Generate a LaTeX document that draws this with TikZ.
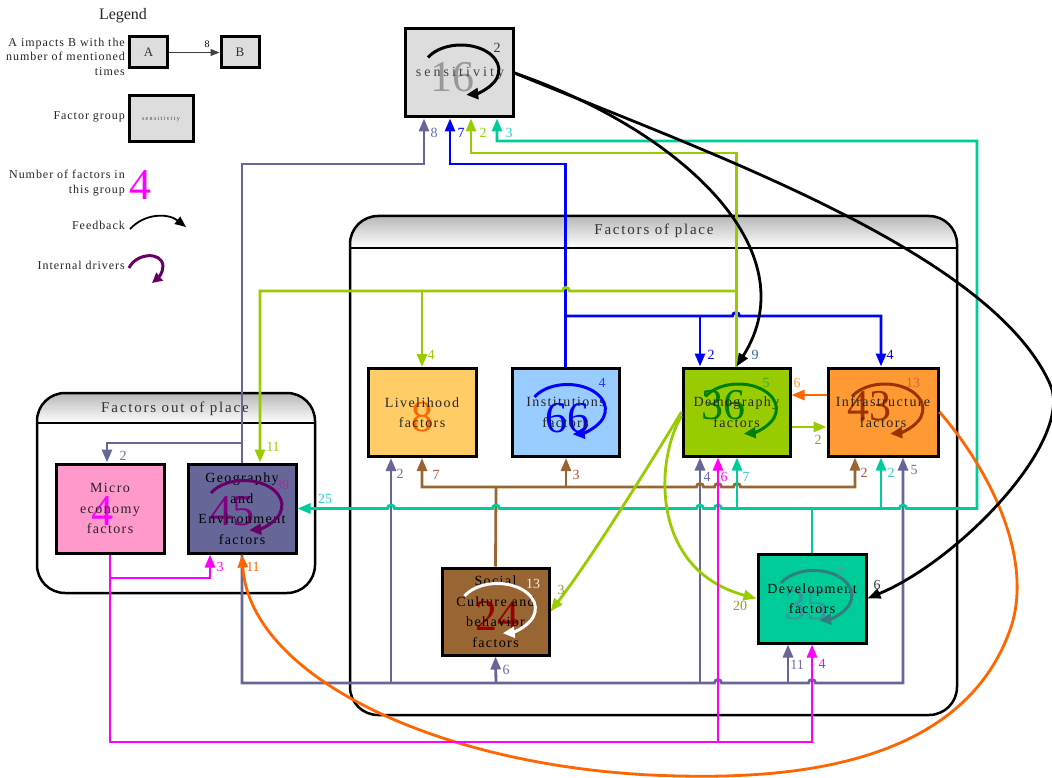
\documentclass[tikz,border=0pt]{standalone}
\usepackage{fontspec}
\setmainfont{Liberation Serif}
\newfontfamily\nodeff[LetterSpace=10]{Liberation Serif}
\newfontfamily\wideff[LetterSpace=22]{Liberation Serif}
\newfontfamily\titleff[LetterSpace=12]{Liberation Serif}
\newfontfamily\legff[LetterSpace=8]{Liberation Serif}
\usetikzlibrary{arrows.meta,calc}

% edge colours
\definecolor{cPG}{HTML}{666699}
\definecolor{cBL}{HTML}{0000FF}
\definecolor{cYG}{HTML}{99CC00}
\definecolor{cTL}{HTML}{00CC99}
\definecolor{cBR}{HTML}{996633}
\definecolor{cMG}{HTML}{FF00FF}
\definecolor{cOR}{HTML}{FF6600}
% label colours
\definecolor{lPG}{HTML}{6E6EAE}
\definecolor{lTL}{HTML}{33CCCC}
\definecolor{lBR}{HTML}{AA5533}
\definecolor{lOL}{HTML}{999933}
\definecolor{lYG}{HTML}{99CC11}
% box fills
\definecolor{fSens}{HTML}{DDDDDD}
\definecolor{fLive}{HTML}{FFCC66}
\definecolor{fInst}{HTML}{99CCFF}
\definecolor{fDemo}{HTML}{99CC00}
\definecolor{fInfra}{HTML}{FF9933}
\definecolor{fMicro}{HTML}{FF99CC}
\definecolor{fGeo}{HTML}{666699}
\definecolor{fSoc}{HTML}{996633}
\definecolor{fDev}{HTML}{00CC99}
% numbers and inner loops
\definecolor{nDemo}{HTML}{008000}
\definecolor{nInfra}{HTML}{993300}
\definecolor{nGeo}{HTML}{800080}
\definecolor{nSoc}{HTML}{990000}
\definecolor{nDev}{HTML}{33999A}
\definecolor{kGeo}{HTML}{660066}
\definecolor{kDev}{HTML}{2F7F7F}

% small bumps where a horizontal line passes over a vertical one
\newcommand\hopr{arc[start angle=180,end angle=360,radius=3.5]}
\newcommand\hopl{arc[start angle=0,end angle=-180,radius=3.5]}
% internal-driver loop inside a factor box
\newcommand\innerloop[2]{\draw[loopline,draw=#2] ($(#1.center)+(-31,-15.5)$) arc[start angle=-150,end angle=82,x radius=38,y radius=25];}

\begin{document}
\begin{tikzpicture}[x=1pt,y=-1pt,
  lnk/.style={line width=2.8pt},
  arr/.style={-{Triangle[length=13pt,width=10pt]}},
  arrboth/.style={{Triangle[length=13pt,width=10pt]}-{Triangle[length=13pt,width=10pt]}},
  fbox/.style={draw=black, line width=3pt, minimum width=108pt, minimum height=88pt, inner sep=0pt},
  ntext/.style={align=center, inner sep=0pt, text=black!85, font={\nodeff\fontsize{14pt}{20.5pt}\selectfont}},
  bignum/.style={inner sep=0pt, font={\fontsize{44pt}{44pt}\selectfont}},
  elab/.style={inner sep=0pt, font={\fontsize{14pt}{14pt}\selectfont}},
  loopline/.style={line width=3pt, -{Triangle[length=12pt,width=11pt]}},
  gtitle/.style={inner sep=0pt, text=black!80, font={\titleff\fontsize{15pt}{18pt}\selectfont}},
  legtext/.style={inner sep=0pt, anchor=east, align=right, text=black!85, font={\legff\fontsize{12pt}{14.5pt}\selectfont}},
]
\useasboundingbox (0,0) rectangle (1052,778);
\fill[white] (0,0) rectangle (1052,778);

% ---------------- legend ----------------
\node[inner sep=0pt, text=black!85, font={\fontsize{16pt}{18pt}\selectfont}] (legtitle) at (123,16) {Legend};
\node[legtext] (legimp) at (125,56.5) {A impacts B with the\\number of mentioned\\times};
\node[fbox, fill=fSens, minimum width=38pt, minimum height=31pt, font={\fontsize{13pt}{14pt}\selectfont}, text=black!80] (legA) at (148.5,52.5) {A};
\node[fbox, fill=fSens, minimum width=38pt, minimum height=31pt, font={\fontsize{13pt}{14pt}\selectfont}, text=black!80] (legB) at (240,52.5) {B};
\draw[line width=1pt, black!75, -{Triangle[length=9pt,width=7pt]}] (legA) -- (legB);
\node[elab, font={\fontsize{10pt}{12pt}\selectfont}] (leg8) at (207,44) {8};
\node[legtext] (leggrp) at (125,117) {Factor group};
\node[fbox, fill=fSens, minimum width=64pt, minimum height=46pt, text=black!75, font={\wideff\fontsize{6pt}{7pt}\selectfont}] (legbox) at (161,119) {sensitivity};
\node[legtext] (legnum) at (125,183) {Number of factors in\\this group};
\node[bignum, text=cMG] (legfour) at (140,185) {4};
\node[legtext] (legfb) at (125,225) {Feedback};
\coordinate (fbs) at (130,229);
\coordinate (fbe) at (186,227);
\draw[line width=1.8pt, -{Triangle[length=11pt,width=9pt]}] (fbs) .. controls (145,213) and (168,213) .. (fbe);
\node[legtext] (legint) at (125,265) {Internal drivers};
\coordinate (ids) at (129,268);
\coordinate (ide) at (152,283);
\draw[line width=3pt, kGeo, -{Triangle[length=10pt,width=10pt]}] (ids) .. controls (136,253) and (162,251) .. (163,266) .. controls (163,273) and (158,278) .. (ide);

% ---------------- factor groups ----------------
\begin{scope}
  \clip[rounded corners=28pt] (350,216) rectangle (957,715);
  \fill[white] (350,216) rectangle (957,715);
  \shade[top color=black!28, bottom color=white] (350,216) rectangle (957,248);
\end{scope}
\draw[line width=2.5pt, rounded corners=28pt] (350,216) rectangle (957,715);
\draw[line width=2.5pt] (350,248) -- (957,248);
\node[gtitle] (tplace) at (654,231) {Factors of place};

\begin{scope}
  \clip[rounded corners=28pt] (37,393) rectangle (315,593);
  \fill[white] (37,393) rectangle (315,593);
  \shade[top color=black!28, bottom color=white] (37,393) rectangle (315,423);
\end{scope}
\draw[line width=2.5pt, rounded corners=28pt] (37,393) rectangle (315,593);
\draw[line width=2.5pt] (37,423) -- (315,423);
\node[gtitle] (toutplace) at (175,409) {Factors out of place};

% ---------------- factor boxes ----------------
\node[fbox, fill=fSens] (sens) at (459,73) {};
\node[bignum, text=black!40] (nsens) at (452,77) {16};
\node[ntext, text=black!75, font={\wideff\fontsize{14pt}{20.5pt}\selectfont}] (tsens) at (460,73) {sensitivity};
\innerloop{sens}{black}

\node[fbox, fill=fLive] (live) at (422,412.5) {};
\node[bignum, text=cOR] (nlive) at (422,417) {8};
\node[ntext] (tlive) at (422,412.5) {Livelihood\\factors};

\node[fbox, fill=fInst, minimum width=107pt] (inst) at (565.5,412.5) {};
\node[bignum, text=cBL] (ninst) at (567,418) {66};
\node[ntext] (tinst) at (565.5,412.5) {Institutions\\factors};
\innerloop{inst}{cBL}

\node[fbox, fill=fDemo, minimum width=107pt] (demo) at (736.5,412) {};
\node[bignum, text=nDemo] (ndemo) at (723,405) {36};
\node[ntext] (tdemo) at (736.5,412) {Demography\\factors};
\innerloop{demo}{nDemo}

\node[fbox, fill=fInfra, minimum width=110pt] (infra) at (883,412) {};
\node[bignum, text=nInfra] (ninfra) at (869,406) {43};
\node[ntext] (tinfra) at (883,412) {Infrastructure\\factors};
\innerloop{infra}{nInfra}

\node[fbox, fill=fMicro, minimum height=89pt] (micro) at (110,508.5) {};
\node[bignum, text=cMG] (nmicro) at (102,511) {4};
\node[ntext] (tmicro) at (110,508.5) {Micro\\economy\\factors};

\node[fbox, fill=fGeo, minimum height=89pt] (geo) at (242,508.5) {};
\node[bignum, text=nGeo] (ngeo) at (232,511) {45};
\node[ntext, text=black] (tgeo) at (242,508.5) {Geography\\and\\Environment\\factors};
\innerloop{geo}{kGeo}

\node[fbox, fill=fSoc, minimum width=107pt, minimum height=87pt] (social) at (495.5,611.5) {};
\node[bignum, text=nSoc] (nsocial) at (497,616) {24};
\node[ntext, text=black] (tsocial) at (495.5,611.5) {Social\\Culture and\\behavior\\factors};
\innerloop{social}{white}

\node[fbox, fill=fDev, minimum height=89pt] (dev) at (812,598.5) {};
\node[bignum, text=nDev] (ndev) at (806,605) {35};
\node[ntext, text=black] (tdev) at (812,598.5) {Development\\factors};
\innerloop{dev}{kDev}

% ---------------- junction points ----------------
\coordinate (pgTop) at (242,443);
\coordinate (pgB1) at (391,683);
\coordinate (pgB2) at (496,683);
\coordinate (pgB3) at (700,683);
\coordinate (pgB4) at (788,683);
\coordinate (brJ) at (496,487);
\coordinate (brI) at (566,487);
\coordinate (tlJ) at (812,508.5);
\coordinate (tlD) at (737,508.5);
\coordinate (tlI) at (881,508.5);
\coordinate (blJ) at (566,316);
\coordinate (blD) at (700,316);
\coordinate (ygJ) at (736.5,291);
\coordinate (ygL) at (422,291);
\coordinate (mgJ) at (718,742);
\coordinate (mgG) at (110,578);

% ---------------- connectors ----------------
% geography and environment
\draw[lnk, cPG, arr] (geo.north) |- (424,164) -- (424,0 |- sens.south);
\draw[lnk, cPG, arr] (pgTop) -| ([shift={(-3,0)}]micro.north);
\draw[lnk, cPG, arr] (geo.south) -- (242,683) -- (714.5,683) \hopr -- (808.5,683) \hopr -- (903,683) -- (903,0 |- infra.south);
\draw[lnk, cPG, arr] (pgB1) -- (391,0 |- live.south);
\draw[lnk, cPG, arr] (pgB2) -- (social.south);
\draw[lnk, cPG, arr] (pgB3) -- (700,0 |- demo.south);
\draw[lnk, cPG, arr] (pgB4) -- (788,0 |- dev.south);

% social culture and behavior
\draw[lnk, cBR] (social.north) -- (brJ);
\draw[lnk, cBR, arrboth] (422,0 |- live.south) -- (422,487) -- (696.5,487) \hopr -- (714.5,487) \hopr -- (733.5,487) \hopr -- (855,487) -- (855,0 |- infra.south);
\draw[lnk, cBR, arr] (brI) -- (566,0 |- inst.south);

% development
\draw[lnk, cTL] (dev.north) -- (tlJ);
\draw[lnk, cTL, arrboth] (geo.east) -- (387.5,508.5) \hopr -- (492.5,508.5) \hopr -- (696.5,508.5) \hopr -- (714.5,508.5) \hopr -- (899.5,508.5) \hopr -- (977,508.5) -- (977,141) -- (497,141) -- (497,0 |- sens.south);
\draw[lnk, cTL, arr] (tlD) -- (737,0 |- demo.south);
\draw[lnk, cTL, arr] (tlI) -- (881,0 |- infra.south);

% institutions
\draw[lnk, cBL, arr] (inst.north) |- (450,164) -- (450,0 |- sens.south);
\draw[lnk, cBL, arr] (blJ) -- (732.5,316) \hopr -- (881,316) -- (881,0 |- infra.north);
\draw[lnk, cBL, arr] (blD) -- (700,0 |- demo.north);

% demography
\draw[lnk, cYG, arr] (demo.north) |- (471,153) -- (471,0 |- sens.south);
\draw[lnk, cYG, arr] (ygJ) -- (569.5,291) \hopl -- (260,291) -- (260,0 |- geo.north);
\draw[lnk, cYG, arr] (ygL) -- (live.north);
\draw[lnk, cYG, arr] ([shift={(0,15)}]demo.east) -- ([shift={(0,15)}]infra.west);
\draw[lnk, cYG, arr] (demo.west) .. controls (640,480) and (590,560) .. (social.east);
\draw[lnk, cYG, arr] ([shift={(0,4)}]demo.west) .. controls (655,460) and (650,570) .. (dev.west);

% infrastructure
\draw[lnk, cOR, arr] ([shift={(0,-17)}]infra.west) -- ([shift={(0,-17)}]demo.east);
\draw[lnk, cOR, arr] (infra.east) .. controls (990,470) and (1035,560) .. (1010,630) .. controls (960,770) and (780,778) .. (680,776) .. controls (450,772) and (250,680) .. (geo.south);

% micro economy
\draw[lnk, cMG, arr] (micro.south) |- (812,742) -- (dev.south);
\draw[lnk, cMG, arr] (mgJ) -- (718,0 |- demo.south);
\draw[lnk, cMG, arr] (mgG) -| (210,0 |- geo.south);

% sensitivity feedback
\draw[lnk, black, arr] (sens.east) .. controls (680,130) and (810,250) .. (demo.north);
\draw[lnk, black, arr] (sens.east) .. controls (700,150) and (990,250) .. (1050,384) .. controls (1075,440) and (960,560) .. (dev.east);

% ---------------- connector labels ----------------
\node[elab, text=lPG] (e1) at (434,133) {8};
\node[elab, text=cBL] (e2) at (461,133) {7};
\node[elab, text=lYG] (e3) at (483,133) {2};
\node[elab, text=lTL] (e4) at (509,133) {3};
\node[elab, text=black!80] (e5) at (497,48) {2};
\node[elab, text=cBL] (e6) at (711,355) {2};
\node[elab, text={rgb,255:red,51;green,102;blue,153}] (e7) at (755,355) {9};
\node[elab, text=cBL] (e8) at (890,355) {4};
\node[elab, text=lYG] (e9) at (431,355) {4};
\node[elab, text=lYG] (e10) at (273,447) {11};
\node[elab, text=lPG] (e11) at (123,456) {2};
\node[elab, text=lTL] (e12) at (325,499) {25};
\node[elab, text=cMG] (e13) at (220,567) {3};
\node[elab, text=cOR] (e14) at (253,567) {11};
\node[elab, text=lPG] (e15) at (400,474) {2};
\node[elab, text=lBR] (e16) at (436,475) {7};
\node[elab, text=lBR] (e17) at (576,475) {3};
\node[elab, text=lPG] (e18) at (707,477) {4};
\node[elab, text=cMG] (e19) at (724,477) {6};
\node[elab, text=lTL] (e20) at (746,477) {7};
\node[elab, text=lBR] (e21) at (864,473) {2};
\node[elab, text=lTL] (e22) at (891,473) {2};
\node[elab, text=lPG] (e23) at (914,470) {5};
\node[elab, text=lOL] (e24) at (818,440) {2};
\node[elab, text={rgb,255:red,255;green,153;blue,51}] (e25) at (797,383) {6};
\node[elab, text=lOL] (e26) at (561,590) {3};
\node[elab, text=lOL] (e27) at (740,606) {20};
\node[elab, text=black!80] (e28) at (877,585) {6};
\node[elab, text=lPG] (e29) at (506,670) {6};
\node[elab, text=lPG] (e30) at (797,665) {11};
\node[elab, text=cMG] (e31) at (822,664) {4};
% inner loop counts
\node[elab, text={rgb,255:red,51;green,51;blue,255}] (k1) at (602,383) {4};
\node[elab, text={rgb,255:red,51;green,170;blue,51}] (k2) at (766,383) {5};
\node[elab, text={rgb,255:red,204;green,102;blue,51}] (k3) at (913,383) {13};
\node[elab, text={rgb,255:red,153;green,51;blue,153}] (k4) at (282,485) {39};
\node[elab, text=black!7] (k5) at (533,584) {13};
\node[elab, text={rgb,255:red,102;green,153;blue,153}] (k6) at (840,573) {7};
\end{tikzpicture}
\end{document}
